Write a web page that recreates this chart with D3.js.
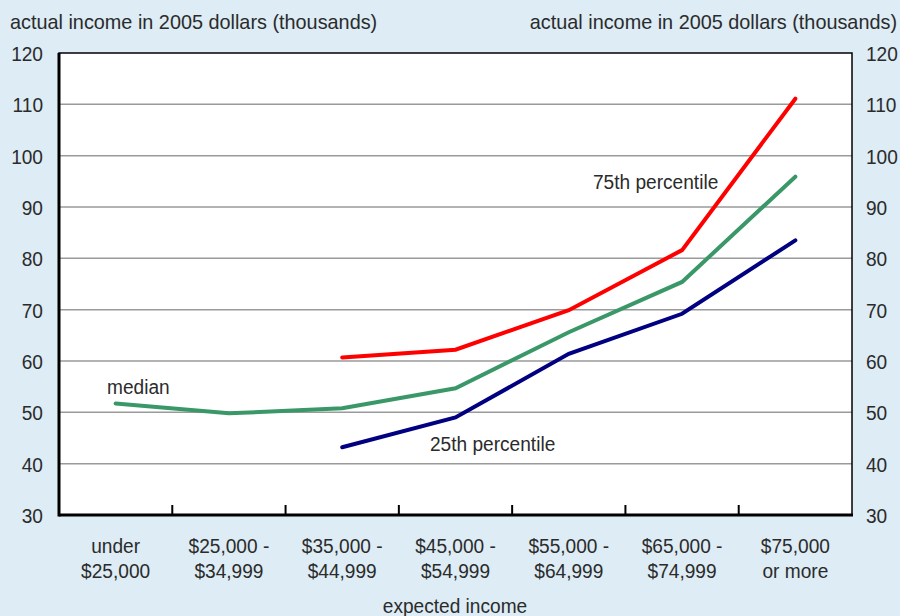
<!DOCTYPE html>
<html><head><meta charset="utf-8">
<script src="https://cdn.jsdelivr.net/npm/d3@7"></script>
<style>
body{margin:0;background:#ddecf5;}
svg{display:block;}
text{font-family:"Liberation Sans",Arial,sans-serif;fill:#2b2b2b;}
</style></head><body>
<svg id="c" width="900" height="616"></svg>
<script>
const categories = [["under","$25,000"],["$25,000 -","$34,999"],["$35,000 -","$44,999"],["$45,000 -","$54,999"],["$55,000 -","$64,999"],["$65,000 -","$74,999"],["$75,000","or more"]];
const median = [51.7, 49.8, 50.8, 54.7, 65.6, 75.4, 95.9];
const p75 = [null, null, 60.7, 62.2, 69.9, 81.6, 111.1];
const p25 = [null, null, 43.2, 49.0, 61.4, 69.2, 83.5];
const yTicks = [30,40,50,60,70,80,90,100,110,120];
const yTitle = "actual income in 2005 dollars (thousands)";
const xTitle = "expected income";

const svg = d3.select("#c");
const L=59, R=852, T=53, B=515;
const FS = 21, SX = 0.91;
const x = d3.scaleBand().domain(d3.range(categories.length)).range([L,R]);
const y = d3.scaleLinear().domain([30,120]).range([B,T]);

function label(g, tx, ty, str, anchor, sx){
  return g.append("text")
    .attr("transform",`translate(${tx},${ty}) scale(${sx||SX},1)`)
    .attr("text-anchor",anchor||"start")
    .style("font-size",FS+"px").text(str);
}

svg.append("rect").attr("x",0).attr("y",0).attr("width",900).attr("height",616).attr("fill","#ddecf5");
svg.append("rect").attr("x",L).attr("y",T).attr("width",R-L).attr("height",B-T).attr("fill","#fff");

// gridlines
svg.append("g").selectAll("line").data(yTicks.filter(d=>d>30 && d<120)).join("line")
  .attr("x1",L).attr("x2",R).attr("y1",d=>y(d)).attr("y2",d=>y(d))
  .attr("stroke","#9a9a9a").attr("stroke-width",1.5);

// y tick labels (left and right) via axis positions
const gl = svg.append("g").attr("transform",`translate(${L},0)`).call(d3.axisLeft(y).tickValues(yTicks).tickSize(0).tickFormat(""));
gl.select(".domain").remove();
gl.selectAll(".tick").each(function(d){ label(d3.select(this), -16, 7.5, String(d), "end"); });
const gr = svg.append("g").attr("transform",`translate(${R},0)`).call(d3.axisRight(y).tickValues(yTicks).tickSize(0).tickFormat(""));
gr.select(".domain").remove();
gr.selectAll(".tick").each(function(d){ label(d3.select(this), 14, 7.5, String(d), "start"); });

// x ticks at band boundaries
const bounds = d3.range(1,categories.length).map(i=>x(i));
svg.append("g").selectAll("line").data(bounds).join("line")
  .attr("x1",d=>d).attr("x2",d=>d).attr("y1",B).attr("y2",B-10)
  .attr("stroke","#000").attr("stroke-width",2);

// frame
svg.append("rect").attr("x",L).attr("y",T).attr("width",R-L).attr("height",B-T)
  .attr("fill","none").attr("stroke","#000").attr("stroke-width",1.5);
svg.append("line").attr("x1",L).attr("x2",L).attr("y1",T).attr("y2",B+1.5).attr("stroke","#000").attr("stroke-width",3);
svg.append("line").attr("x1",L).attr("x2",R+1).attr("y1",B).attr("y2",B).attr("stroke","#000").attr("stroke-width",3);

// x labels
const xg = svg.append("g");
categories.forEach((c,i)=>{
  const cx = x(i)+x.bandwidth()/2;
  label(xg, cx, 553, c[0], "middle");
  label(xg, cx, 578, c[1], "middle");
});

// titles
label(svg, 10, 29, yTitle, "start", 0.945);
label(svg, 897, 29, yTitle, "end", 0.945);
label(svg, 455, 613, xTitle, "middle");

// lines
const line = d3.line().defined(d=>d!=null).x((d,i)=>x(i)+x.bandwidth()/2).y(d=>y(d));
const series = [[p75,"#ff0000"],[median,"#3a9868"],[p25,"#000080"]];
series.forEach(([s,c])=>{
  svg.append("path").datum(s).attr("d",line).attr("fill","none").attr("stroke",c).attr("stroke-width",4).attr("stroke-linejoin","miter").attr("stroke-linecap","round");
});

// series labels
label(svg, 107, 394, "median");
label(svg, 593, 189, "75th percentile");
label(svg, 430, 451, "25th percentile");
</script></body></html>
